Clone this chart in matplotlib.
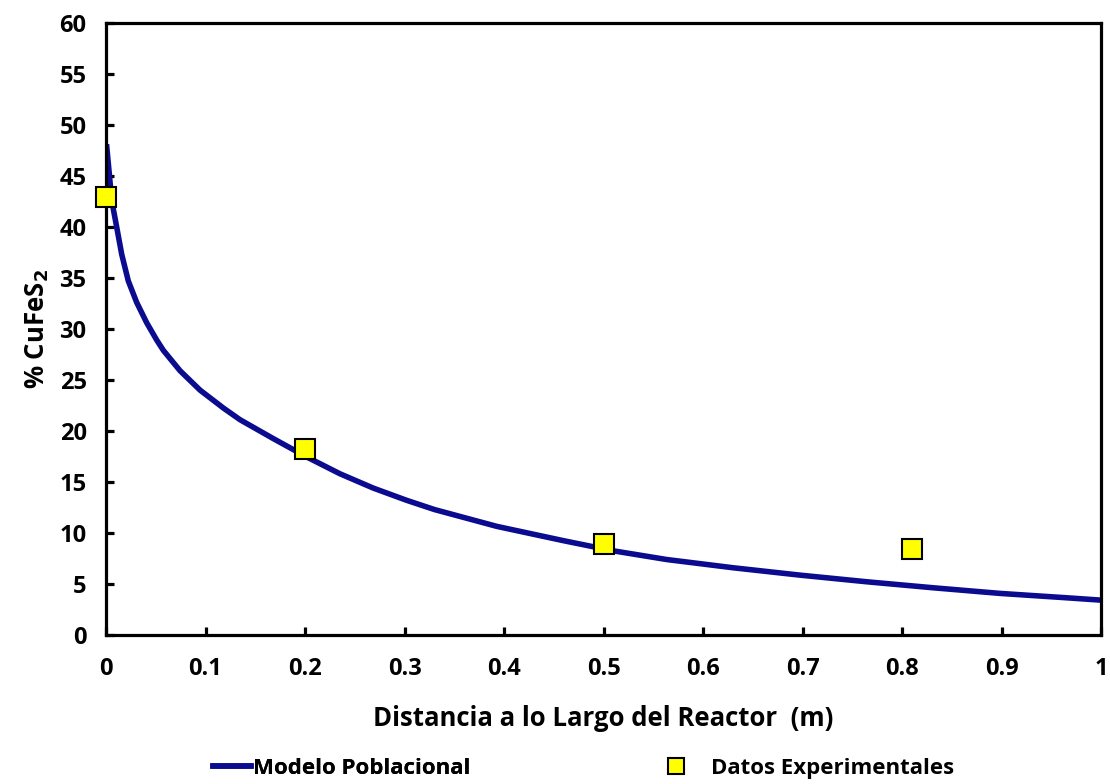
import matplotlib
matplotlib.use("Agg")
from matplotlib import pyplot as plt
from matplotlib.lines import Line2D
import matplotlib.ticker as ticker

plt.rcParams['font.family'] = ['Open Sans', 'DejaVu Sans']
plt.rcParams['font.weight'] = 'bold'
plt.rcParams['mathtext.default'] = 'bf'

# population model curve
model_x = [0.0005, 0.0033, 0.0057, 0.0107, 0.0158, 0.0224, 0.0308, 0.0409, 0.051,
           0.0576, 0.0744, 0.0945, 0.1179, 0.1347, 0.1681, 0.2017, 0.2352, 0.2686,
           0.3022, 0.33, 0.3927, 0.4596, 0.51, 0.5635, 0.6305, 0.6975, 0.7645,
           0.8315, 0.8985, 0.9655, 1.0]
model_y = [48.1, 45.2, 42.6, 40.0, 37.3, 34.7, 32.6, 30.6, 28.9,
           27.9, 25.9, 24.0, 22.25, 21.1, 19.25, 17.45, 15.8, 14.4,
           13.2, 12.3, 10.65, 9.25, 8.25, 7.4, 6.59, 5.87, 5.22,
           4.63, 4.08, 3.65, 3.42]

# experimental data
exp_x = [0.0, 0.2, 0.5, 0.81]
exp_y = [42.9, 18.2, 8.9, 8.4]

line_color = '#0b0b8f'

fig = plt.figure(figsize=(11.1, 7.84), dpi=100)
ax = fig.add_axes([0.0955, 0.190, 0.8964, 0.781])

ax.plot(model_x, model_y, color=line_color, linewidth=4, zorder=2,
        solid_joinstyle='round', solid_capstyle='butt')
ax.plot(exp_x, exp_y, linestyle='none', marker='s', markersize=14,
        markerfacecolor='#ffff00', markeredgecolor='black', markeredgewidth=1.5,
        zorder=3, clip_on=False)

ax.set_xlim(0, 1)
ax.set_ylim(0, 60)
ax.xaxis.set_major_locator(ticker.MultipleLocator(0.1))
ax.yaxis.set_major_locator(ticker.MultipleLocator(5))
ax.xaxis.set_major_formatter(ticker.FuncFormatter(lambda v, p: '%g' % round(v, 1)))

for s in ax.spines.values():
    s.set_linewidth(2.3)
ax.tick_params(direction='in', length=6, width=2.3, labelsize=17)
ax.tick_params(axis='x', pad=16)
ax.tick_params(axis='y', pad=14)
for lab in ax.get_xticklabels() + ax.get_yticklabels():
    lab.set_fontweight('bold')

ax.set_xlabel('Distancia a lo Largo del Reactor  (m)', fontsize=18.5, fontweight='bold', labelpad=17)
ax.set_ylabel('% CuFeS$_2$', fontsize=18.5, fontweight='bold', labelpad=6)

leg_font = {'size': 16, 'weight': 'bold'}
h_model = Line2D([], [], color=line_color, linewidth=4)
h_exp = Line2D([], [], linestyle='none', marker='s', markersize=11,
               markerfacecolor='#ffff00', markeredgecolor='black', markeredgewidth=1.5)
leg1 = fig.legend([h_model], ['Modelo Poblacional'], loc='center left',
                  bbox_to_anchor=(0.192, 0.0204), frameon=False, prop=leg_font,
                  borderpad=0, borderaxespad=0, handlelength=1.7, handletextpad=0.1)
fig.legend([h_exp], ['Datos Experimentales'], loc='center left',
           bbox_to_anchor=(0.5923, 0.0204), frameon=False, prop=leg_font,
           borderpad=0, borderaxespad=0, handlelength=1.7, handletextpad=0.7)
fig.add_artist(leg1)

plt.savefig('out.png', dpi=100)
plt.close()
